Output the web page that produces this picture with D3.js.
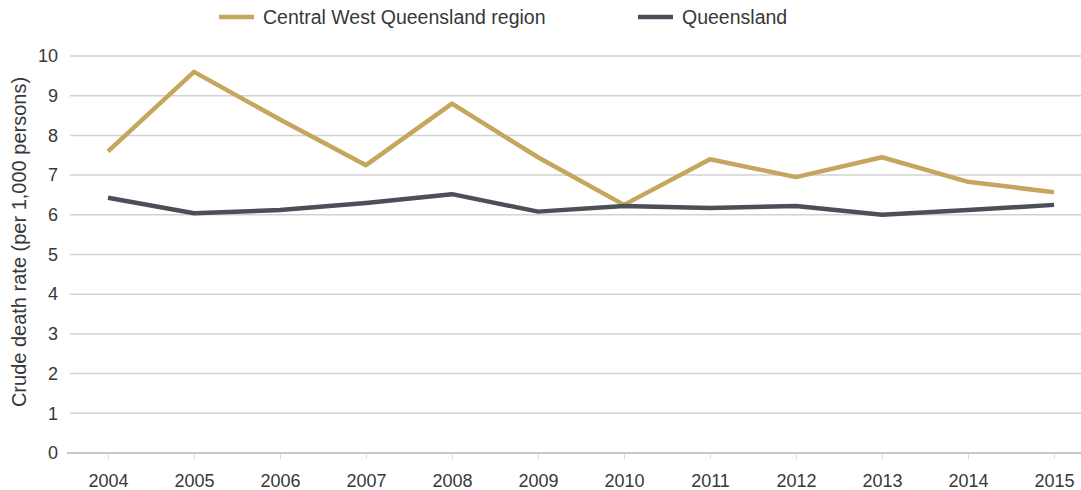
<!DOCTYPE html>
<html>
<head>
<meta charset="utf-8">
<script src="https://cdn.jsdelivr.net/npm/d3@7"></script>
<style>
  body { margin: 0; background: #fff; }
  svg { display: block; font-family: "Liberation Sans", Arial, sans-serif; }
</style>
</head>
<body>
<svg id="chart" width="1081" height="490"></svg>
<script>
const years = ["2004","2005","2006","2007","2008","2009","2010","2011","2012","2013","2014","2015"]
const central_west = [7.6, 9.6, 8.4, 7.25, 8.8, 7.45, 6.25, 7.4, 6.95, 7.45, 6.83, 6.57]
const queensland = [6.43, 6.04, 6.12, 6.3, 6.52, 6.08, 6.22, 6.17, 6.22, 6.0, 6.12, 6.25]
const y_ticks = [0,1,2,3,4,5,6,7,8,9,10]
const series_names = ["Central West Queensland region", "Queensland"]

const colors = ["#c6a55c", "#4b5058"]
const text_color = "#383838"

var svg = d3.select("#chart")

var xScale = d3.scaleBand().domain(years).range([65, 1097])
var yScale = d3.scaleLinear().domain([0, 10]).range([453, 56])
const xc = d => xScale(d) + xScale.bandwidth() / 2

// gridlines
svg.append("g")
    .selectAll("line")
    .data(y_ticks.filter(d => d > 0))
    .join("line")
        .attr("x1", 70)
        .attr("x2", 1081)
        .attr("y1", d => yScale(d))
        .attr("y2", d => yScale(d))
        .attr("stroke", "#d2d2d2")
        .attr("stroke-width", 1.5)

// x axis
var xAxis = svg.append("g")
    .attr("transform", "translate(0," + yScale(0) + ")")
    .call(d3.axisBottom(d3.scalePoint().domain(years).range([xc(years[0]), xc(years[years.length-1])])).tickSize(6).tickSizeOuter(0))
xAxis.select(".domain").remove()
xAxis.selectAll(".tick line").attr("stroke", "#d8d8d8")
xAxis.selectAll(".tick text")
    .attr("y", 21)
    .attr("font-size", 18)
    .attr("font-family", "Liberation Sans, Arial, sans-serif")
    .attr("fill", text_color)
svg.append("line")
    .attr("x1", 67).attr("x2", 1081)
    .attr("y1", yScale(0)).attr("y2", yScale(0))
    .attr("stroke", "#c8c8c8")
    .attr("stroke-width", 2)

// y axis
var yAxis = svg.append("g")
    .attr("transform", "translate(62,0)")
    .call(d3.axisLeft(yScale).tickValues(y_ticks).tickSize(0))
yAxis.select(".domain").remove()
yAxis.selectAll(".tick text")
    .attr("x", -4)
    .attr("font-size", 18)
    .attr("font-family", "Liberation Sans, Arial, sans-serif")
    .attr("fill", text_color)

svg.append("text")
    .attr("transform", "translate(26," + 242 + ") rotate(-90)")
    .attr("text-anchor", "middle")
    .attr("font-size", 20)
    .attr("fill", text_color)
    .text("Crude death rate (per 1,000 persons)")

// lines
var line = d3.line()
    .x((d, i) => xc(years[i]))
    .y(d => yScale(d))

;[central_west, queensland].forEach(function (series, k) {
    svg.append("path")
        .datum(series)
        .attr("d", line)
        .attr("fill", "none")
        .attr("stroke", colors[k])
        .attr("stroke-width", 4.5)
        .attr("stroke-linejoin", "round")
})

// legend
const legend_x = [219, 638]
var legend = svg.append("g")
    .selectAll("g")
    .data(series_names)
    .join("g")
        .attr("transform", (d, i) => "translate(" + legend_x[i] + ",17)")
legend.append("line")
    .attr("x1", 0).attr("x2", 35)
    .attr("stroke", (d, i) => colors[i])
    .attr("stroke-width", 4.5)
legend.append("text")
    .attr("x", 44)
    .attr("y", 7)
    .attr("font-size", 19.5)
    .attr("fill", text_color)
    .text(d => d)
</script>
</body>
</html>
